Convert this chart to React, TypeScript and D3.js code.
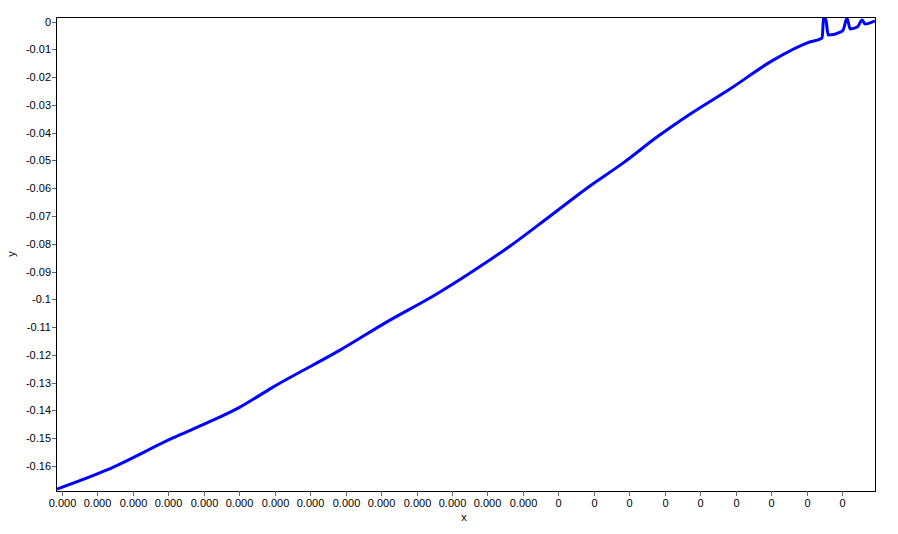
import React, { useEffect, useRef } from 'react';
import * as d3 from 'd3';

// x positions in tick units, y values
const xValues = [
  -0.14, 1.27, 3.13, 4.09, 5.02, 5.95, 7.84, 9.25, 10.47, 11.51, 12.64, 13.77,
  14.89, 15.83, 16.78, 17.72, 18.84, 20.06, 21.02, 21.44, 21.48, 21.52, 21.55,
  21.61, 21.95, 22.03, 22.14, 22.23, 22.43, 22.57, 22.65, 22.79, 22.93,
];
const yValues = [
  -0.1683, -0.1614, -0.1499, -0.1445, -0.1388, -0.1316, -0.1183, -0.1075,
  -0.0988, -0.0905, -0.0808, -0.07, -0.0592, -0.0509, -0.0416, -0.0333,
  -0.0243, -0.0139, -0.0077, -0.0059, 0.0012, 0.0012, 0.0002, -0.0049,
  -0.0038, -0.0031, 0.0012, -0.0027, -0.002, 0.0005, -0.0009, -0.0005, 0.0002,
];

const xTickLabels = [
  '0.000', '0.000', '0.000', '0.000', '0.000', '0.000', '0.000', '0.000',
  '0.000', '0.000', '0.000', '0.000', '0.000', '0.000',
  '0', '0', '0', '0', '0', '0', '0', '0', '0',
];
const yTicks = [
  0, -0.01, -0.02, -0.03, -0.04, -0.05, -0.06, -0.07, -0.08, -0.09, -0.1,
  -0.11, -0.12, -0.13, -0.14, -0.15, -0.16,
];

const App = () => {
  const svgRef = useRef<SVGSVGElement>(null);

  useEffect(() => {
    const margin = { top: 17, right: 23, bottom: 43, left: 56 };
    const W = 898;
    const H = 534;
    const width = W - margin.left - margin.right;
    const height = H - margin.top - margin.bottom;
    const font = '"Liberation Sans", Arial, sans-serif';

    const root = d3.select(svgRef.current);
    root.selectAll('*').remove();
    root.attr('width', W).attr('height', H);

    const svg = root.append('g')
      .attr('transform', `translate(${margin.left},${margin.top})`);

    const x = d3.scaleLinear()
      .domain([-0.169, 22.93])
      .range([0, width]);

    const y = d3.scaleLinear()
      .domain([-0.169, 0.00162])
      .range([height, 0]);

    svg.append('clipPath').attr('id', 'plot-clip')
      .append('rect').attr('width', width).attr('height', height);

    const data = xValues.map((v, i) => ({ x: v, y: yValues[i] }));
    const line = d3.line<{ x: number; y: number }>()
      .x(d => x(d.x))
      .y(d => y(d.y))
      .curve(d3.curveMonotoneX);

    svg.append('path')
      .datum(data)
      .attr('clip-path', 'url(#plot-clip)')
      .attr('fill', 'none')
      .attr('stroke', '#0000ff')
      .attr('stroke-width', 3)
      .attr('stroke-linejoin', 'round')
      .attr('d', line);

    // frame
    svg.append('rect')
      .attr('x', 0.5).attr('y', 0.5)
      .attr('width', width).attr('height', height)
      .attr('fill', 'none')
      .attr('stroke', '#000');

    // y axis
    const yAxis = svg.append('g');
    yTicks.forEach(t => {
      const py = Math.round(y(t)) + 0.5;
      yAxis.append('line')
        .attr('x1', -4).attr('x2', 0).attr('y1', py).attr('y2', py)
        .attr('stroke', '#666');
      yAxis.append('text')
        .attr('x', -5).attr('y', py)
        .attr('dy', '0.35em')
        .attr('text-anchor', 'end')
        .text(String(t));
    });

    // x axis
    const xAxis = svg.append('g').attr('transform', `translate(0,${height})`);
    xTickLabels.forEach((lab, i) => {
      const px = Math.round(x(i)) + 0.5;
      xAxis.append('line')
        .attr('x1', px).attr('x2', px).attr('y1', 0).attr('y2', 5)
        .attr('stroke', '#666');
      xAxis.append('text')
        .attr('x', px).attr('y', 16)
        .attr('text-anchor', 'middle')
        .text(lab);
    });

    svg.selectAll('text')
      .attr('font-family', font)
      .attr('font-size', 11)
      .attr('fill', '#000');

    root.append('text')
      .attr('x', 464).attr('y', 521)
      .attr('text-anchor', 'middle')
      .attr('font-family', font)
      .attr('font-size', 11)
      .text('x');

    root.append('text')
      .attr('transform', 'translate(15,254) rotate(-90)')
      .attr('text-anchor', 'middle')
      .attr('font-family', font)
      .attr('font-size', 11)
      .text('y');
  }, []);

  return (
    <div style={{ position: 'absolute', left: 0, top: 0 }}>
      <svg ref={svgRef}></svg>
    </div>
  );
};

export default App;
